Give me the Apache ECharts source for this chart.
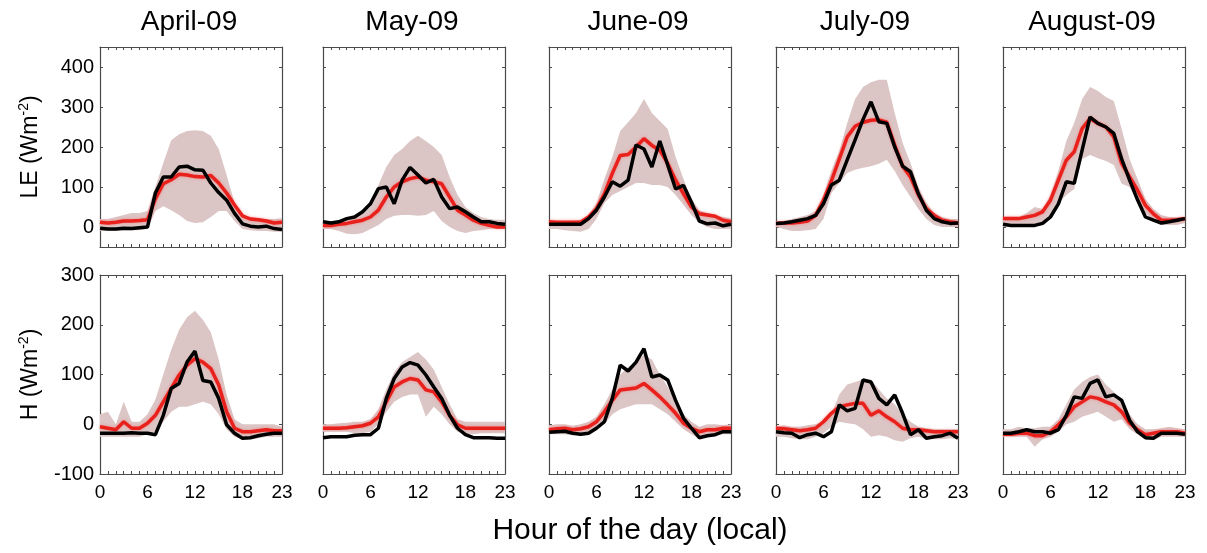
<!DOCTYPE html>
<html><head><meta charset="utf-8">
<script src="https://cdn.jsdelivr.net/npm/echarts@6/dist/echarts.min.js"></script>
<style>html,body{margin:0;padding:0;background:#fff}#c{width:1207px;height:553px}</style>
</head><body><div id="c"></div>
<script>
const hours = ['0','1','2','3','4','5','6','7','8','9','10','11','12','13','14','15','16','17','18','19','20','21','22','23'];
const months = ['April-09','May-09','June-09','July-09','August-09'];
const xLabelHours = ['0','6','12','18','23'];
const leTicks = [0,100,200,300,400];
const hTicks = [-100,0,100,200,300];

// LE (top row): band low, band high, red, black
const aprLE_low   = [-10,-10,-10,-8,-8,-8,-5,40,52,42,30,15,10,12,25,40,40,15,-5,-8,-10,-10,-12,-12];
const aprLE_high  = [20,20,25,30,35,35,40,100,160,217,232,240,242,240,228,195,130,60,30,25,22,20,20,22];
const aprLE_red   = [12,10,12,15,15,16,18,70,108,118,132,130,126,125,129,110,85,55,28,20,18,15,10,12];
const aprLE_black = [-3,-5,-5,-3,-4,-2,0,85,125,125,150,152,143,142,110,86,67,34,8,2,0,2,-4,-6];

const mayLE_low   = [-5,-5,-10,-17,-18,-15,-5,5,20,28,30,30,28,30,40,15,0,-10,-15,-10,-8,-5,-5,-5];
const mayLE_high  = [15,15,15,20,25,35,50,105,150,180,195,215,228,215,200,180,125,80,50,35,25,20,18,18];
const mayLE_red   = [4,4,7,9,13,17,25,42,75,100,113,121,125,117,113,108,75,42,30,17,9,4,0,0];
const mayLE_black = [13,10,13,21,25,38,58,96,100,58,117,149,130,110,119,75,46,50,38,25,13,13,9,7];

const junLE_low   = [-5,-5,-8,-10,-12,-5,20,60,80,90,100,110,110,105,105,100,80,55,30,10,0,-5,-5,-5];
const junLE_high  = [15,15,15,15,18,30,60,120,175,240,262,285,320,285,265,245,175,120,70,42,35,30,25,22];
const junLE_red   = [13,12,12,12,12,25,46,83,134,179,181,200,221,204,192,159,117,83,50,33,30,27,17,13];
const junLE_black = [7,7,7,7,7,21,42,75,113,102,117,205,195,150,215,155,95,104,62,15,8,10,3,7];

const julLE_low   = [0,-5,-10,-10,-8,-5,20,85,110,135,143,148,152,158,168,140,105,75,45,20,5,0,0,0];
const julLE_high  = [15,15,20,25,30,40,80,140,190,260,320,350,362,368,368,285,210,160,100,60,35,25,20,20];
const julLE_red   = [9,10,10,12,15,29,67,115,170,225,252,262,267,268,262,205,152,125,80,46,29,17,13,10];
const julLE_black = [9,10,13,17,21,29,58,105,117,168,218,269,313,263,259,200,152,138,83,42,21,13,9,10];

const augLE_low   = [0,0,0,0,0,5,30,60,80,95,170,180,172,165,155,108,100,65,35,15,5,5,5,10];
const augLE_high  = [25,25,25,35,50,45,80,140,215,260,320,350,340,325,315,245,170,120,70,45,30,25,25,25];
const augLE_red   = [21,21,21,25,29,38,67,117,167,188,246,271,259,250,225,159,125,92,54,33,17,17,18,21];
const augLE_black = [7,4,4,4,4,9,25,58,113,109,192,275,259,250,234,170,117,68,25,17,10,13,17,21];

// H (bottom row): band low, band high, red, black
const aprH_low   = [-25,-25,-25,-25,-25,-25,-20,-15,5,25,35,35,40,45,40,20,-10,-25,-30,-30,-28,-25,-25,-25];
const aprH_high  = [20,25,0,45,5,5,20,50,100,150,190,215,228,210,185,130,60,10,0,0,0,0,0,-5];
const aprH_red   = [-5,-8,-11,5,-8,-8,2,18,45,72,99,119,132,125,112,79,25,-8,-15,-15,-13,-11,-13,-13];
const aprH_black = [-18,-18,-18,-18,-17,-18,-18,-21,18,72,82,125,147,88,85,52,-1,-18,-28,-27,-23,-20,-18,-18];

const mayH_low   = [-15,-15,-15,-15,-18,-18,-15,0,25,45,55,60,60,15,35,20,0,-15,-20,-20,-18,-18,-18,-18];
const mayH_high  = [0,0,2,3,5,5,10,30,70,105,125,135,145,130,110,75,40,10,5,5,5,5,5,5];
const mayH_red   = [-8,-8,-8,-7,-5,-3,2,15,45,75,85,92,89,69,65,45,18,-1,-8,-8,-8,-8,-8,-8];
const mayH_black = [-27,-25,-25,-25,-22,-21,-21,-8,52,92,115,124,119,99,75,52,18,-8,-21,-27,-27,-27,-28,-28];

const junH_low   = [-20,-20,-20,-22,-22,-20,-12,0,20,30,35,40,40,40,30,20,5,-10,-20,-30,-25,-22,-20,-20];
const junH_high  = [-2,0,0,-3,0,5,15,40,70,100,115,125,140,130,100,75,45,20,5,-5,0,0,-2,0];
const junH_red   = [-11,-9,-8,-11,-9,-5,5,25,48,69,71,73,82,69,55,39,22,2,-8,-15,-11,-11,-8,-8];
const junH_black = [-16,-15,-14,-18,-20,-18,-8,5,52,119,107,125,152,95,99,89,48,12,-8,-27,-23,-21,-15,-15];

const julH_low   = [-25,-25,-28,-30,-30,-25,-18,-5,5,2,0,-10,-25,-22,-25,-32,-35,-28,-25,-30,-30,-30,-28,-30];
const julH_high  = [-5,-2,-5,-5,-2,0,5,20,60,80,85,90,90,70,52,40,20,5,-5,-8,-10,-10,-10,-10];
const julH_red   = [-8,-9,-11,-13,-11,-8,5,22,35,39,42,42,18,27,15,5,-8,-11,-11,-13,-15,-15,-15,-15];
const julH_black = [-15,-17,-18,-27,-21,-18,-25,-15,39,27,32,89,85,52,39,59,22,-21,-11,-28,-25,-23,-18,-28];

const augH_low   = [-25,-25,-25,-25,-45,-30,-25,-15,0,5,15,20,25,15,5,10,-10,-20,-30,-32,-25,-25,-25,-25];
const augH_high  = [-10,-10,-5,-8,-8,-5,-5,10,40,70,85,95,100,80,65,50,20,0,-10,-10,-8,-5,-8,-10];
const augH_red   = [-20,-20,-18,-18,-23,-23,-15,-1,15,35,45,55,52,45,39,25,2,-11,-21,-18,-15,-15,-15,-18];
const augH_black = [-18,-18,-15,-11,-15,-15,-18,-11,18,55,52,82,89,55,59,48,8,-15,-27,-28,-18,-18,-18,-20];

const panelData = [
  [aprLE_low, aprLE_high, aprLE_red, aprLE_black],
  [mayLE_low, mayLE_high, mayLE_red, mayLE_black],
  [junLE_low, junLE_high, junLE_red, junLE_black],
  [julLE_low, julLE_high, julLE_red, julLE_black],
  [augLE_low, augLE_high, augLE_red, augLE_black],
  [aprH_low, aprH_high, aprH_red, aprH_black],
  [mayH_low, mayH_high, mayH_red, mayH_black],
  [junH_low, junH_high, junH_red, junH_black],
  [julH_low, julH_high, julH_red, julH_black],
  [augH_low, augH_high, augH_red, augH_black]
];

const FONT = '"Liberation Sans", Arial, sans-serif';
const AXIS_COLOR = '#4a4a4a';
const BAND = '#dcc5c5';
const RED = '#e8211c';
const colLeft = [100, 323, 549, 776, 1003];
const W = 182;
const rows = [
  {top: 47, h: 200, min: -50, max: 450, ticks: leTicks, name: 'LE'},
  {top: 275, h: 199, min: -100, max: 300, ticks: hTicks, name: 'H'}
];

const grid = [], xAxis = [], yAxis = [], series = [], graphic = [];
months.forEach((m, c) => {
  graphic.push({type: 'text', x: colLeft[c] + W / 2 - 2, y: 22,
    style: {text: m, font: '28px ' + FONT, fill: '#000', align: 'center', verticalAlign: 'middle', textAlign: 'center', textVerticalAlign: 'middle'}});
});

for (let p = 0; p < 10; p++) {
  const r = Math.floor(p / 5), c = p % 5, R = rows[r];
  grid.push({left: colLeft[c], top: R.top, width: W, height: R.h, show: false});
  const xBase = {
    type: 'category', gridIndex: p, data: hours, boundaryGap: false,
    axisLine: {show: true, onZero: false, lineStyle: {color: AXIS_COLOR, width: 1.2}},
    axisTick: {show: true, inside: true, length: 3, interval: 0, lineStyle: {color: AXIS_COLOR}},
    splitLine: {show: false}
  };
  xAxis.push(Object.assign({}, xBase, {
    position: 'bottom',
    axisLabel: {show: r === 1, interval: (i, v) => xLabelHours.includes(v), margin: 9, color: '#000', fontSize: 19, fontFamily: FONT},
    name: p === 7 ? 'Hour of the day (local)' : '',
    nameLocation: 'middle', nameGap: 42,
    nameTextStyle: {fontSize: 30, fontFamily: FONT, color: '#000'}
  }));
  xAxis.push(Object.assign({}, xBase, {position: 'top', axisLabel: {show: false}}));
  const yBase = {
    type: 'value', gridIndex: p, min: R.min, max: R.max,
    axisLine: {show: true, onZero: false, lineStyle: {color: AXIS_COLOR, width: 1.2}},
    axisTick: {show: true, inside: true, length: 3, customValues: R.ticks, lineStyle: {color: AXIS_COLOR}},
    splitLine: {show: false}
  };
  yAxis.push(Object.assign({}, yBase, {
    position: 'left',
    axisLabel: {show: c === 0, customValues: R.ticks, margin: 6, color: '#000', fontSize: 20, fontFamily: FONT},
    name: c === 0 ? '{a|' + R.name + ' (Wm}{s|-2}{a|)}' : '',
    nameLocation: 'middle', nameGap: 56, nameRotate: 90,
    nameTextStyle: {rich: {
      a: {fontSize: 23, fontFamily: FONT, color: '#000', lineHeight: 27},
      s: {fontSize: 14, fontFamily: FONT, color: '#000', verticalAlign: 'top', lineHeight: 14}
    }}
  }));
  yAxis.push(Object.assign({}, yBase, {position: 'right', axisLabel: {show: false}}));

  const [low, high, red, black] = panelData[p];
  const common = {type: 'line', xAxisIndex: 2 * p, yAxisIndex: 2 * p, symbol: 'none', silent: true, animation: false};
  series.push(Object.assign({}, common, {data: low, stack: 'band' + p, stackStrategy: 'all', lineStyle: {opacity: 0, width: 0}, z: 1}));
  series.push(Object.assign({}, common, {data: high.map((v, i) => v - low[i]), stack: 'band' + p, stackStrategy: 'all',
    lineStyle: {opacity: 0, width: 0}, areaStyle: {color: BAND, opacity: 1}, z: 1}));
  series.push(Object.assign({}, common, {data: red, lineStyle: {color: RED, width: 3.5, shadowColor: 'rgba(255,90,90,0.6)', shadowBlur: 3}, z: 3}));
  series.push(Object.assign({}, common, {data: black, lineStyle: {color: '#000', width: 3.5}, z: 4}));
}

const chart = echarts.init(document.getElementById('c'), null, {renderer: 'canvas'});
chart.setOption({animation: false, backgroundColor: '#fff', grid, xAxis, yAxis, series, graphic});
</script></body></html>
